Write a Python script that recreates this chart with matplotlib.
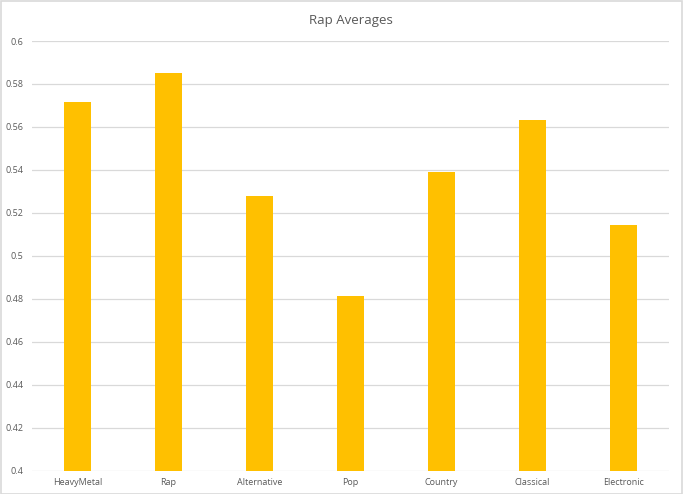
import matplotlib
matplotlib.use('Agg')
import numpy as np
from matplotlib import pyplot as plt
from matplotlib.patches import Rectangle

# Data
genres = ['HeavyMetal', 'Rap', 'Alternative', 'Pop', 'Country', 'Classical', 'Electronic']
averages = [0.5718, 0.5851, 0.5277, 0.4815, 0.5389, 0.5632, 0.5142]
y_ticks = [0.4, 0.42, 0.44, 0.46, 0.48, 0.5, 0.52, 0.54, 0.56, 0.58, 0.6]
y_tick_labels = ['0.4', '0.42', '0.44', '0.46', '0.48', '0.5', '0.52', '0.54', '0.56', '0.58', '0.6']

plt.rcParams['font.family'] = ['Open Sans', 'DejaVu Sans']

fig = plt.figure(figsize=(6.83, 4.94), dpi=100)
ax = fig.add_axes([0.0469, 0.0472, 0.9326, 0.8698])

x = np.arange(len(genres))
ax.bar(x, averages, width=0.3, color='#FFC000', zorder=3)

ax.set_xlim(-0.5, len(genres) - 0.5)
ax.set_ylim(0.4, 0.6)
ax.set_yticks(y_ticks)
ax.set_yticklabels(y_tick_labels)
ax.set_xticks(x)
ax.set_xticklabels(genres)

# Excel-like styling
for y in y_ticks:
    ax.axhline(y=y, color='#D9D9D9', linewidth=0.9, zorder=1)
for side in ['top', 'right', 'left', 'bottom']:
    ax.spines[side].set_visible(False)
ax.tick_params(axis='both', length=0, labelsize=6.5, colors='#595959')
ax.tick_params(axis='y', pad=6)
ax.tick_params(axis='x', pad=5)

ax.set_title('Rap Averages', fontsize=9.5, color='#595959', pad=12)

# light chart border
fig.patches.append(Rectangle((0.001, 0.001), 0.997, 0.997, transform=fig.transFigure,
                             fill=False, edgecolor='#D9D9D9', linewidth=1.2))

fig.savefig('out.png', dpi=100)
